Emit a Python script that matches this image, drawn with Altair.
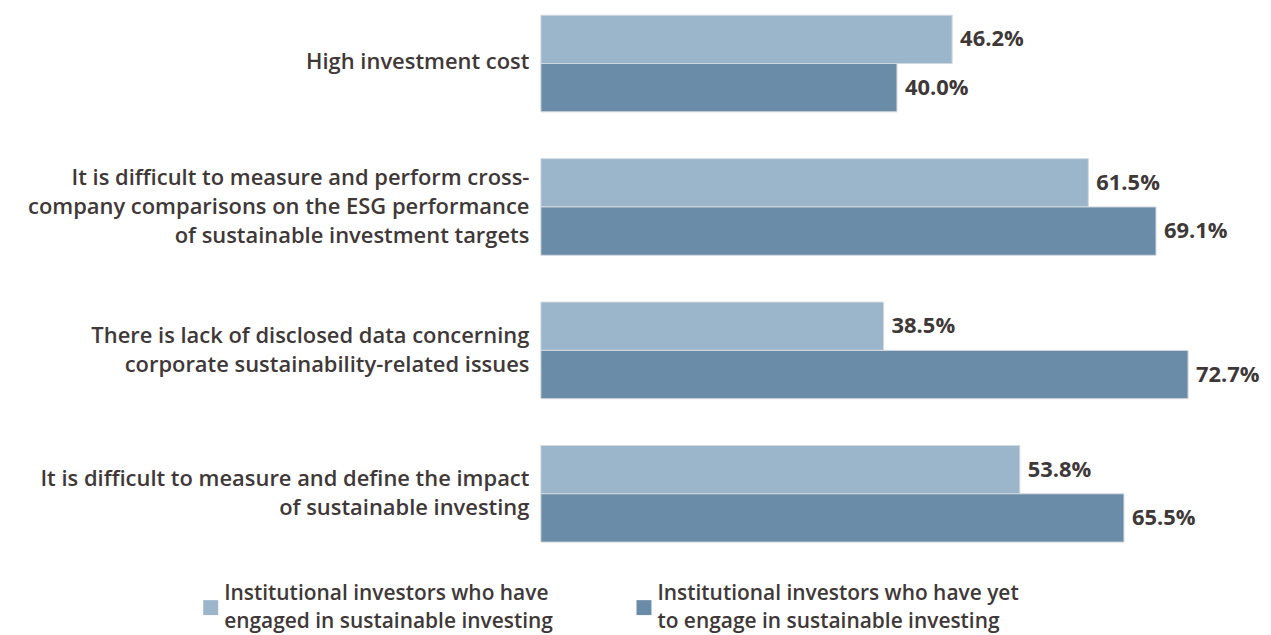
import altair as alt
import pandas as pd

categories = [
    "High investment cost",
    "It is difficult to measure and perform cross-|company comparisons on the ESG performance|of sustainable investment targets",
    "There is lack of disclosed data concerning|corporate sustainability-related issues",
    "It is difficult to measure and define the impact|of sustainable investing",
]
series = [
    "Institutional investors who have|engaged in sustainable investing",
    "Institutional investors who have yet|to engage in sustainable investing",
]
engaged = [46.2, 61.5, 38.5, 53.8]
yet_to_engage = [40.0, 69.1, 72.7, 65.5]
colors = ["#9bb6cb", "#6a8ca8"]

rows = []
for c, a, b in zip(categories, engaged, yet_to_engage):
    rows.append({"category": c, "series": series[0], "value": a})
    rows.append({"category": c, "series": series[1], "value": b})
df = pd.DataFrame(rows)

TXT = "#3f3838"
FONT = "Open Sans"
LH = 29.5

nlines = "length(split(datum.label, '|'))"

base = alt.Chart(df).encode(
    y=alt.Y(
        "category:N",
        sort=categories,
        scale=alt.Scale(paddingInner=0.3264, paddingOuter=0),
        axis=alt.Axis(
            title=None, domain=False, ticks=False,
            labelExpr="split(datum.label, '|')",
            labelFontSize=22, labelColor=TXT, labelFont=FONT, labelFontWeight=600,
            labelPadding=12, labelLimit=700, labelLineHeight=LH,
            labelOffset={
                "condition": [
                    {"test": nlines + " == 3", "value": -LH},
                    {"test": nlines + " == 2", "value": -LH / 2},
                ],
                "value": -2,
            },
        ),
    ),
    yOffset=alt.YOffset("series:N", sort=series, scale=alt.Scale(paddingInner=0, paddingOuter=0)),
    x=alt.X("value:Q", scale=alt.Scale(domain=[0, 80]), axis=None),
)

bars = base.mark_bar(stroke="#d4d9de", strokeWidth=1).encode(
    color=alt.Color(
        "series:N",
        sort=series,
        scale=alt.Scale(domain=series, range=colors),
        legend=alt.Legend(
            title=None, orient="none", legendX=-342, legendY=584,
            direction="horizontal", columns=2, columnPadding=80,
            symbolType="square", symbolSize=225, symbolStrokeWidth=0,
            labelExpr="split(datum.label, '|')",
            labelBaseline="line-bottom",
            labelFontSize=21, labelColor=TXT, labelFont=FONT, labelFontWeight=600,
            labelLimit=700, labelOffset=3,
        ),
    )
)

text = base.transform_calculate(
    lbl="format(datum.value, '.1f') + '%'"
).mark_text(
    align="left", baseline="middle", dx=8, fontSize=22, fontWeight=700, font=FONT, color=TXT
).encode(text="lbl:N")

chart = (bars + text).properties(
    width=715, height=529,
    autosize=alt.AutoSizeParams(type="none"),
    padding={"left": 535, "top": 6, "right": 10, "bottom": 92},
).configure(
    style={"guide-label": {"lineHeight": 28}}
).configure_view(stroke=None)

chart.save("out.html", embed_options={"renderer": "svg", "actions": False})
